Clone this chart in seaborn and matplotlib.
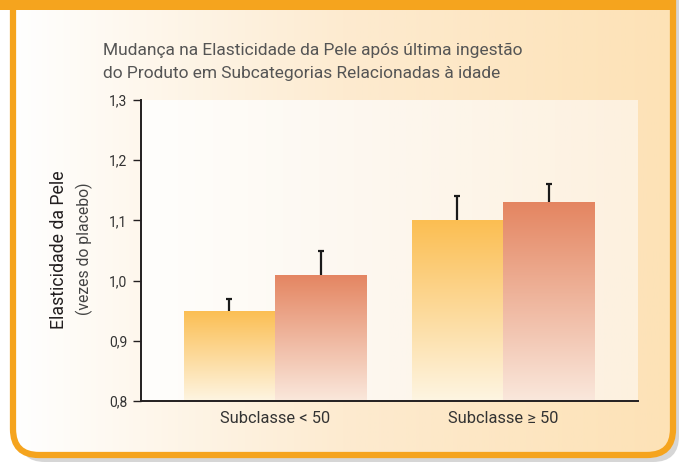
import numpy as np
import pandas as pd
import seaborn as sns
import matplotlib.pyplot as plt
from matplotlib.patches import FancyBboxPatch, Rectangle
from matplotlib.colors import LinearSegmentedColormap

# Dados
subclasses = ["Subclasse < 50", "Subclasse \u2265 50"]
grupos = ["Grupo 1", "Grupo 2"]
valores_g1 = [0.95, 1.10]
valores_g2 = [1.01, 1.13]
erro_g1 = [0.02, 0.04]
erro_g2 = [0.04, 0.03]
yticks = [0.8, 0.9, 1.0, 1.1, 1.2, 1.3]
ytick_labels = ["0,8", "0,9", "1,0", "1,1", "1,2", "1,3"]

df = pd.DataFrame({
    "subclasse": subclasses * 2,
    "grupo": [grupos[0]] * 2 + [grupos[1]] * 2,
    "valor": valores_g1 + valores_g2,
})
erros = [erro_g1, erro_g2]

sns.set_style("white")
plt.rcParams["font.family"] = ["Roboto", "DejaVu Sans"]

W, H = 684, 462
fig = plt.figure(figsize=(W / 100, H / 100), dpi=100)
fig.patch.set_facecolor("white")

# fundo com moldura laranja
bg = fig.add_axes([0, 0, 1, 1], zorder=-5)
bg.axis("off")
laranja = "#F5A41E"
estilo = "round,pad=0,rounding_size=26"
sombra = FancyBboxPatch((19, -60), 660, 522, boxstyle=estilo, fc="#d6d6d6", ec="none", zorder=1)
bg.add_patch(sombra)
caixa = FancyBboxPatch((13, -60), 660, 515, boxstyle=estilo, fc="white", ec="none", zorder=2)
bg.add_patch(caixa)
grad_bg = LinearSegmentedColormap.from_list("bg", ["#FFFFFF", "#FDEBD0", "#FDE2B6"])
img = bg.imshow(np.linspace(0, 1, 256)[None, :], cmap=grad_bg, aspect="auto",
                extent=(13, 673, 455, 0), zorder=3)
img.set_clip_path(caixa)
borda = FancyBboxPatch((13, -60), 660, 515, boxstyle=estilo, fc="none", ec=laranja,
                       lw=4.5, zorder=4)
bg.add_patch(borda)
bg.add_patch(Rectangle((0, 0), 676, 10, fc=laranja, ec="none", zorder=5))
bg.set_xlim(0, W)
bg.set_ylim(H, 0)

# grafico principal
ax = fig.add_axes([141 / W, (H - 401) / H, 497 / W, 301 / H])
ax.patch.set_alpha(0)
sns.barplot(data=df, x="subclasse", y="valor", hue="grupo", palette=["#FBBE52", "#E48561"],
            errorbar=None, width=0.8, legend=False, ax=ax)

# fundo da area do grafico
grad_ax = LinearSegmentedColormap.from_list("ax", ["#FFFEFC", "#FDF7EE", "#FDF1DF"])
ax.imshow(np.linspace(0, 1, 256)[None, :], cmap=grad_ax, aspect="auto",
          extent=(-0.588, 1.592, 0.8, 1.3), zorder=0)

cores = [("#FBBE52", "#FEF5E2"), ("#E48561", "#FAE8DC")]
barras = list(ax.containers)
for i, cont in enumerate(barras):
    cmap = LinearSegmentedColormap.from_list(f"b{i}", [cores[i][1], cores[i][0]])
    for j, p in enumerate(cont.patches):
        x0 = p.get_x()
        w = p.get_width()
        h = p.get_height()
        p.set_facecolor("none")
        p.set_edgecolor("none")
        im = ax.imshow(np.linspace(0, 1, 256)[:, None], cmap=cmap, aspect="auto",
                       origin="lower", extent=(x0, x0 + w, 0.8, h), zorder=2)
        im.set_clip_path(p)
        # barra de erro so para cima
        topo = h + erros[i][j]
        ax.plot([x0 + w / 2, x0 + w / 2], [h, topo], color="#1a1a1a", lw=1.6,
                solid_capstyle="butt", zorder=3)
        ax.plot([x0 + w / 2], [topo], marker="_", ms=5, mew=1.6, color="#1a1a1a", zorder=3)

ax.set_ylim(0.8, 1.3)
ax.set_xlim(-0.588, 1.592)
ax.set_yticks(yticks)
ax.set_yticklabels(ytick_labels)
ax.set_xlabel("")
ax.set_ylabel("")
for s in ["top", "right"]:
    ax.spines[s].set_visible(False)
for s in ["left", "bottom"]:
    ax.spines[s].set_color("#231F20")
    ax.spines[s].set_linewidth(1.4)
    ax.spines[s].set_zorder(4)
ax.tick_params(axis="y", left=True, length=6, width=1, color="#231F20", pad=4,
               labelsize=10, labelcolor="#333333")
ax.tick_params(axis="x", length=0, pad=7, labelsize=11.8, labelcolor="#333333")

fig.text(103 / W, 1 - 55 / H, "Mudança na Elasticidade da Pele após última ingestão",
         ha="left", va="baseline", fontsize=12.5, color="#555555")
fig.text(103 / W, 1 - 78 / H, "do Produto em Subcategorias Relacionadas à idade",
         ha="left", va="baseline", fontsize=12.5, color="#555555")
fig.text(59 / W, 1 - 250 / H, "Elasticidade da Pele", rotation=90, ha="center",
         va="center", fontsize=12.8, color="#231F20")
fig.text(84 / W, 1 - 249 / H, "(vezes do placebo)", rotation=90, ha="center",
         va="center", fontsize=11.3, color="#444444")

fig.savefig("out.png", dpi=100)
